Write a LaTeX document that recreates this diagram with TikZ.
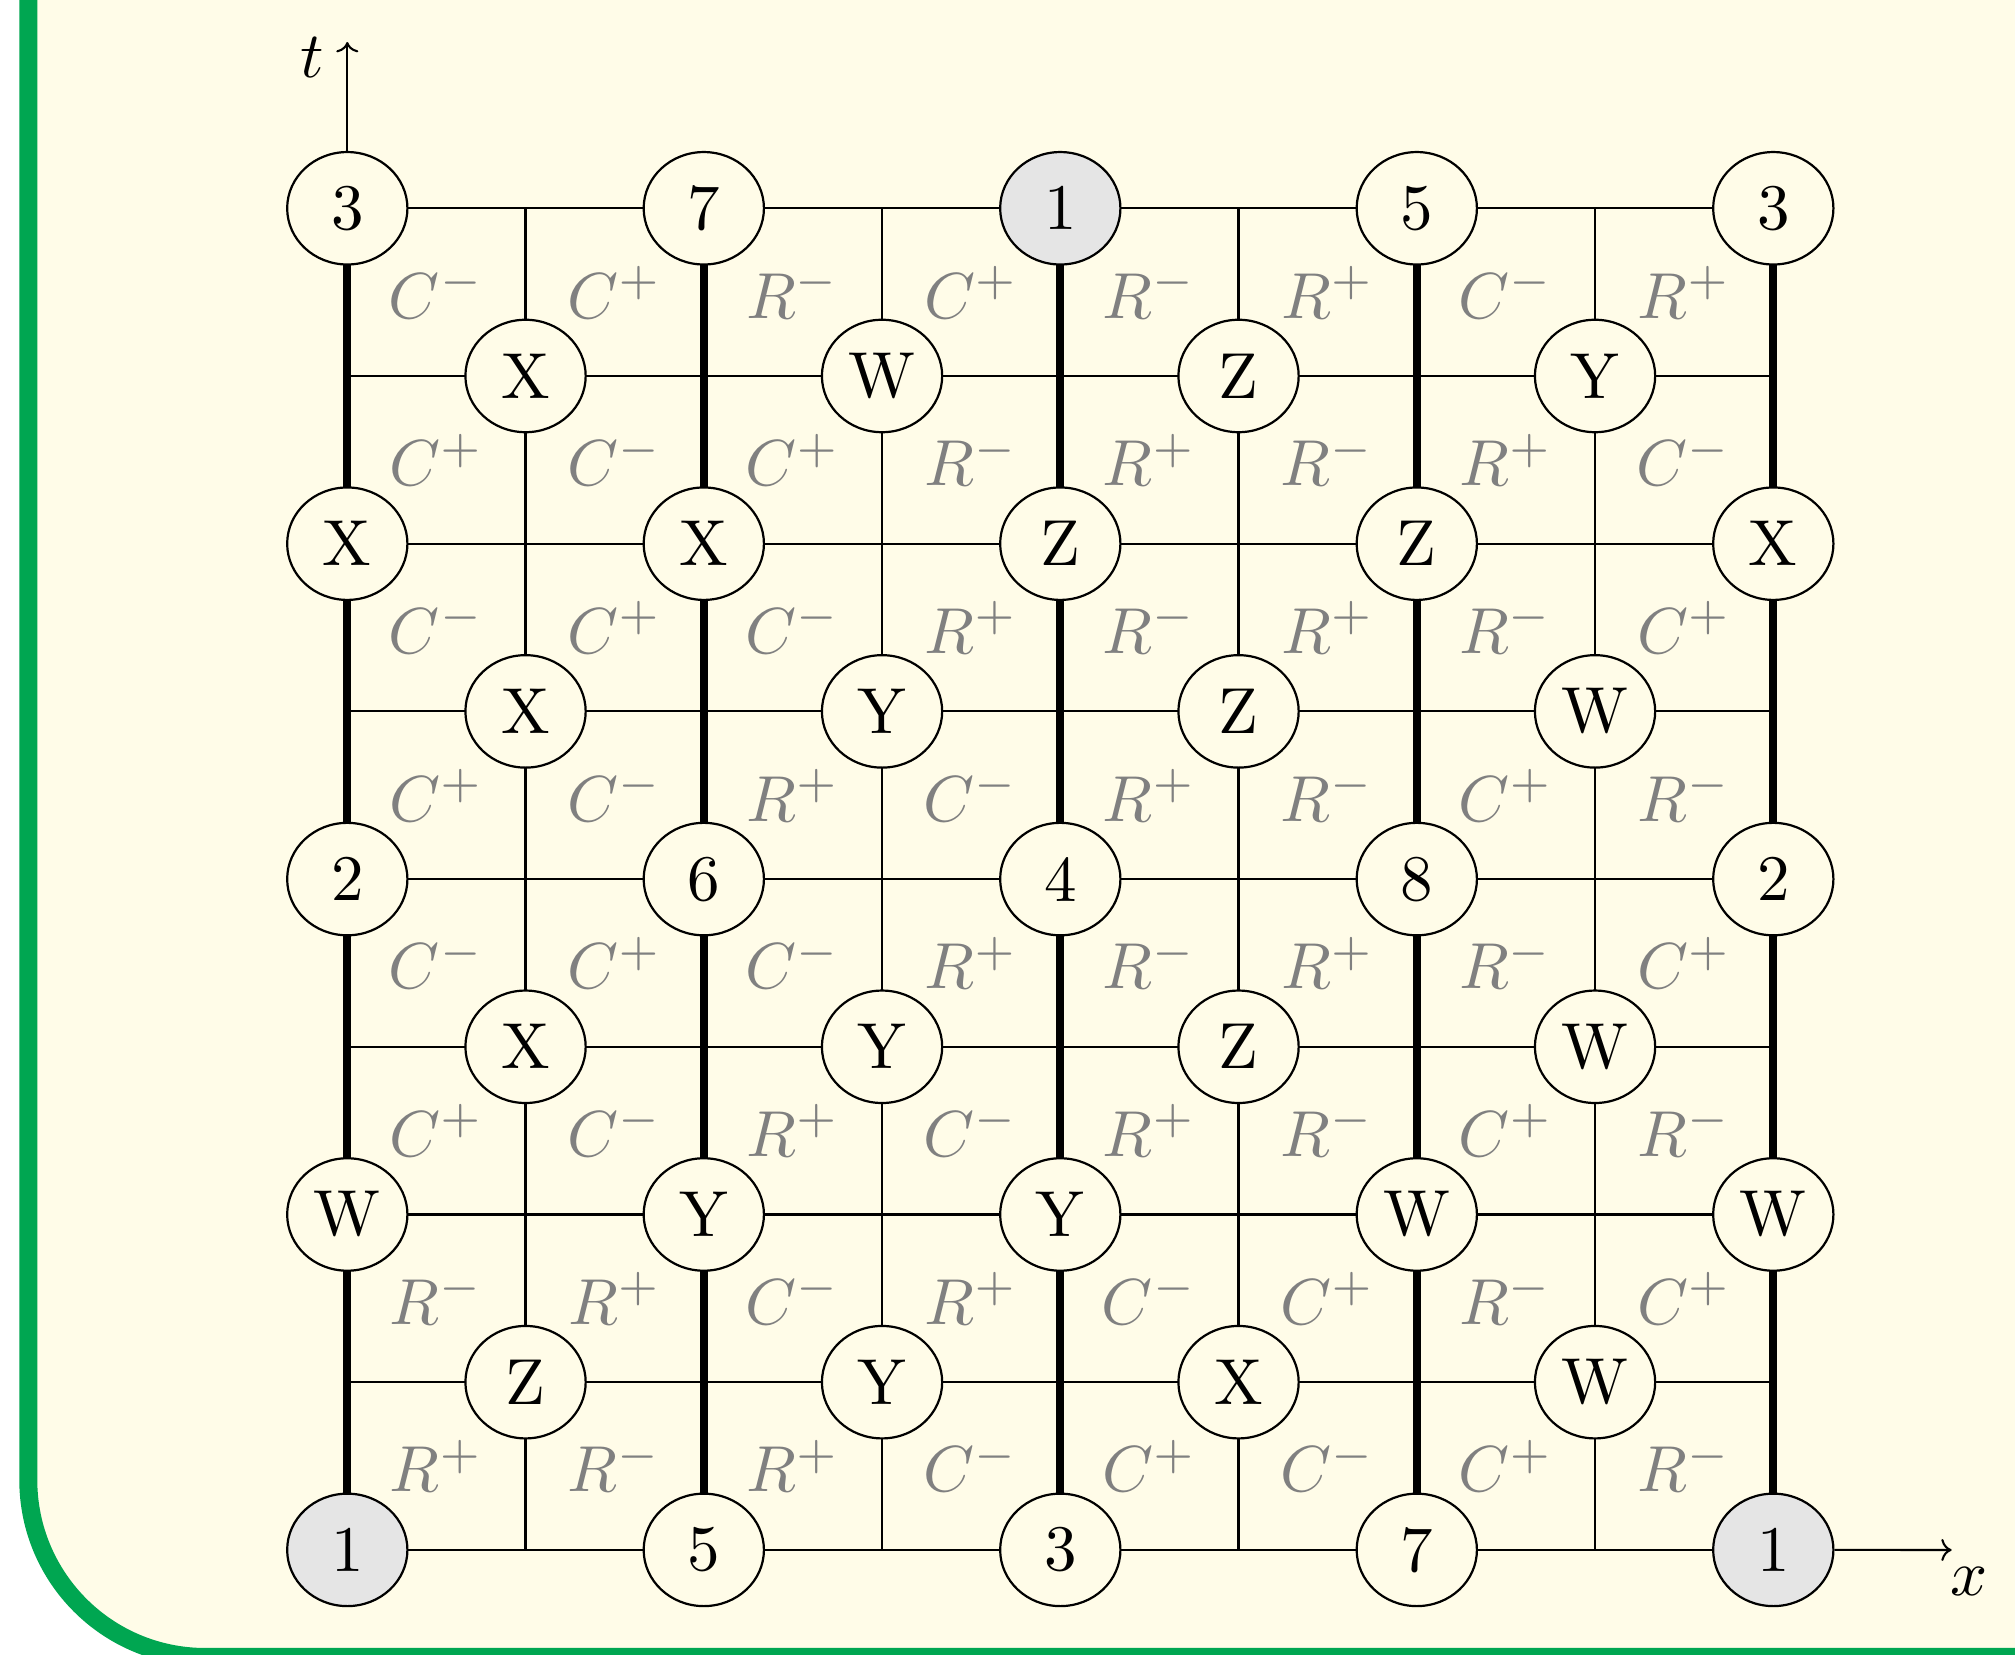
\documentclass[tikz,border=0pt]{standalone}
\usetikzlibrary{shapes.geometric,arrows.meta}
\definecolor{cream}{RGB}{255,252,232}
\definecolor{framegreen}{RGB}{0,166,81}
\definecolor{nodegrey}{RGB}{229,229,229}
\definecolor{labgrey}{RGB}{128,128,128}
\def\splitlab#1#2{#1^{#2}}
\begin{document}
\begin{tikzpicture}[x=0.153846pt,y=-0.153846pt,
  vtx/.style={ellipse,draw,line width=0.34pt,fill=cream,minimum width=18.5pt,minimum height=17.3pt,inner sep=0pt},
  hl/.style={vtx,fill=nodegrey},
  gridline/.style={line width=0.33pt},
  spine/.style={line width=1.23pt},
  lab/.style={text=labgrey,inner sep=0pt},
  axis/.style={line width=0.32pt,-{To[length=1.6pt,width=3.4pt]}}
]
\useasboundingbox (0,0) rectangle (2015,1655);
\clip (0,0) rectangle (2015,1655);
\fill[white] (0,0) rectangle (2015,1655);
\fill[cream] (28.3,-30) -- (28.3,1480) .. controls (28.3,1577.8) and (107.5,1657) .. (205.3,1657) -- (2100,1657) -- (2100,-30) -- cycle;
\draw[framegreen,line width=2.77pt] (28.3,-30) -- (28.3,1480) .. controls (28.3,1577.8) and (107.5,1657) .. (205.3,1657) -- (2100,1657);

% grid coordinates
\foreach \i in {0,...,8}
  \foreach \j in {0,...,8}
    \coordinate (c-\i-\j) at ({347.3+178.25*\i},{208.3+167.7*\j});

% grid lines
\foreach \j in {0,...,8} \draw[gridline] (c-0-\j) -- (c-8-\j);
\foreach \i in {1,3,5,7} \draw[gridline] (c-\i-0) -- (c-\i-8);
\foreach \i in {0,2,4,6,8} \draw[spine] (c-\i-0) -- (c-\i-8);

% cell labels
\foreach \b/\row in {
  0/{C-,C+,R-,C+,R-,R+,C-,R+},
  1/{C+,C-,C+,R-,R+,R-,R+,C-},
  2/{C-,C+,C-,R+,R-,R+,R-,C+},
  3/{C+,C-,R+,C-,R+,R-,C+,R-},
  4/{C-,C+,C-,R+,R-,R+,R-,C+},
  5/{C+,C-,R+,C-,R+,R-,C+,R-},
  6/{R-,R+,C-,R+,C-,C+,R-,C+},
  7/{R+,R-,R+,C-,C+,C-,C+,R-}}{
  \foreach \lab [count=\a from 0] in \row {
    \node[lab] (lab-\a-\b) at ({347.3+178.25*(\a+0.5)},{208.3+167.7*(\b+0.5)}) {$\expandafter\splitlab\lab$};
  }
}

% vertices
\foreach \i/\j/\t in {
  0/0/3, 2/0/7, 6/0/5, 8/0/3,
  1/1/X, 3/1/W, 5/1/Z, 7/1/Y,
  0/2/X, 2/2/X, 4/2/Z, 6/2/Z, 8/2/X,
  1/3/X, 3/3/Y, 5/3/Z, 7/3/W,
  0/4/2, 2/4/6, 4/4/4, 6/4/8, 8/4/2,
  1/5/X, 3/5/Y, 5/5/Z, 7/5/W,
  0/6/W, 2/6/Y, 4/6/Y, 6/6/W, 8/6/W,
  1/7/Z, 3/7/Y, 5/7/X, 7/7/W,
  2/8/5, 4/8/3, 6/8/7}
  \node[vtx] (n-\i-\j) at (c-\i-\j) {\t};
\foreach \i/\j in {4/0, 0/8, 8/8}
  \node[hl] (n-\i-\j) at (c-\i-\j) {1};

% axes
\coordinate (tend) at (347.3,42);
\coordinate (xend) at (1951.7,1550);
\draw[axis] (n-0-0) -- (tend);
\draw[axis] (n-8-8) -- (xend);
\node (tlab) at (312,58) {$t$};
\node (xlab) at (1969,1582) {$x$};
\end{tikzpicture}
\end{document}
